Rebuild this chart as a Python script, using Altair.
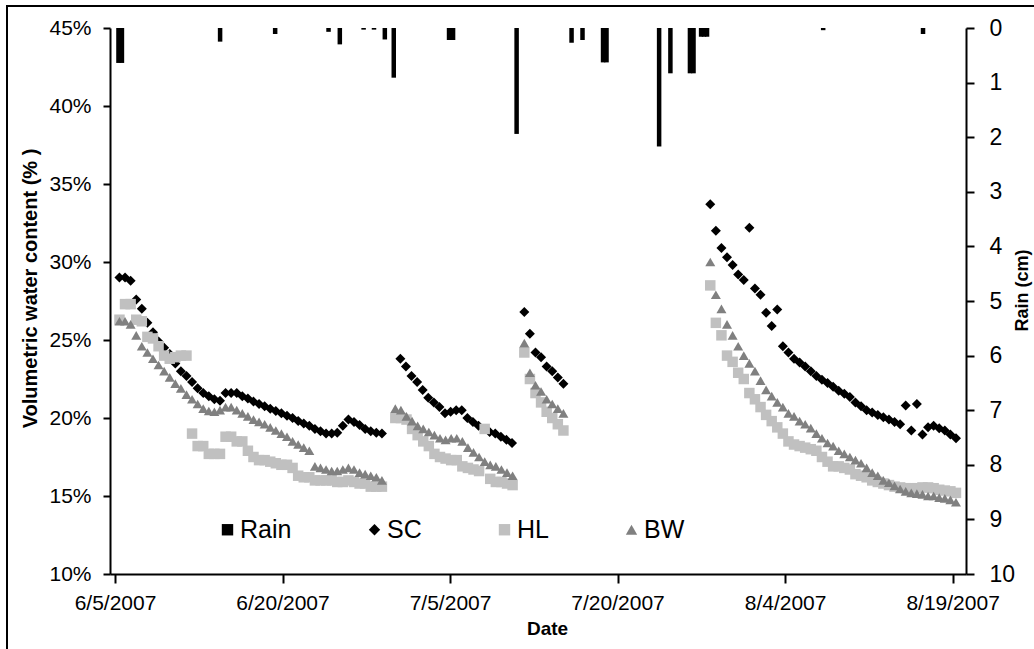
import altair as alt
import pandas as pd

BASE_DATE = pd.Timestamp("2007-06-05")
STEP_DAYS = 0.5

SERIES = ["Rain", "SC", "HL", "BW"]
COLORS = ["#000000", "#000000", "#c0c0c0", "#808080"]
SHAPES = ["square", "diamond", "square", "triangle-up"]
MARKER_SIZE = {"SC": 100, "HL": 110, "BW": 100}

# Rain (cm): day offset from 6/5/2007 and depth
RAIN_DAY = [0.31, 0.62, 9.41, 14.34, 19.12, 20.13, 22.26, 23.19, 24.16, 24.96,
            29.91, 30.27, 35.96, 40.88, 41.86, 43.70, 44.01, 48.72, 49.73, 51.48,
            51.80, 52.48, 52.74, 53.01, 63.41, 72.35]
RAIN_CM = [0.64, 0.64, 0.25, 0.11, 0.07, 0.30, 0.03, 0.03, 0.21, 0.91,
           0.22, 0.22, 1.94, 0.27, 0.22, 0.63, 0.63, 2.17, 0.83, 0.83,
           0.83, 0.16, 0.16, 0.16, 0.04, 0.11]

# Volumetric water content (%), sampled every half day within each segment
SC_STARTS = [0.4, 25.55, 36.65, 53.3]
SC_SEG1 = [29.0, 29.0, 28.8, 27.6, 27.0, 26.1, 25.5, 24.9, 24.5, 24.1,
           23.5, 23.0, 22.7, 22.3, 21.9, 21.6, 21.4, 21.2, 21.1, 21.6,
           21.6, 21.6, 21.4, 21.25, 21.05, 20.9, 20.75, 20.6, 20.45, 20.3,
           20.15, 20.0, 19.8, 19.65, 19.5, 19.3, 19.15, 19.0, 19.0, 19.05,
           19.5, 19.9, 19.75, 19.55, 19.3, 19.15, 19.05, 19.0]
SC_SEG2 = [23.8, 23.3, 22.7, 22.3, 21.8, 21.3, 21.0, 20.7, 20.3, 20.4,
           20.5, 20.5, 20.0, 19.75, 19.5, 19.3, 19.1, 19.0, 18.8, 18.6, 18.4]
SC_SEG3 = [26.8, 25.4, 24.2, 23.9, 23.3, 23.0, 22.6, 22.2]
SC_SEG4 = [33.7, 32.0, 30.9, 30.3, 29.8, 29.2, 28.85, 32.2, 28.3, 27.9,
           26.75, 25.9, 26.95, 24.6, 24.2, 23.8, 23.55, 23.3, 23.0, 22.7,
           22.45, 22.25, 22.0, 21.75, 21.55, 21.35, 21.0, 20.75, 20.5, 20.35,
           20.2, 20.05, 19.9, 19.75, 19.6, 20.8, 19.2, 20.9, 18.95, 19.4,
           19.5, 19.35, 19.2, 18.95, 18.7]

HL_STARTS = [0.4, 25.1, 36.65, 53.3]
HL_SEG1 = [26.3, 27.3, 27.3, 26.3, 26.2, 25.2, 25.1, 24.6, 24.0, 23.8,
           23.9, 24.0, 24.0, 19.0, 18.2, 18.2, 17.7, 17.7, 17.7, 18.8,
           18.8, 18.5, 18.5, 17.9, 17.5, 17.3, 17.3, 17.2, 17.1, 17.0,
           17.0, 16.8, 16.3, 16.2, 16.2, 16.0, 16.0, 16.0, 16.0, 15.9,
           15.9, 16.0, 15.9, 15.8, 15.8, 15.6, 15.6, 15.6]
HL_SEG2 = [20.0, 20.0, 19.9, 19.3, 18.9, 18.5, 18.2, 17.7, 17.5, 17.4,
           17.3, 17.3, 16.9, 16.8, 16.7, 16.6, 19.3, 16.1, 15.9, 15.9, 15.8, 15.7]
HL_SEG3 = [24.2, 22.5, 21.6, 21.0, 20.4, 20.0, 19.6, 19.2]
HL_SEG4 = [28.5, 26.1, 25.3, 24.0, 23.6, 22.9, 22.5, 21.6, 21.2, 20.7,
           20.2, 19.8, 19.4, 19.0, 18.5, 18.3, 18.2, 18.1, 18.0, 17.9,
           17.5, 17.2, 16.9, 16.9, 16.8, 16.7, 16.4, 16.3, 16.2, 16.0,
           15.9, 15.8, 15.7, 15.6, 15.55, 15.5, 15.5, 15.5, 15.55, 15.55,
           15.5, 15.4, 15.35, 15.3, 15.2]

BW_STARTS = [0.4, 25.1, 36.65, 53.3]
BW_SEG1 = [26.2, 26.2, 26.0, 25.3, 24.6, 24.2, 23.8, 23.4, 23.0, 22.6,
           22.2, 21.9, 21.5, 21.2, 20.9, 20.6, 20.45, 20.4, 20.5, 20.7,
           20.7, 20.5, 20.3, 20.1, 19.9, 19.75, 19.6, 19.4, 19.2, 19.0,
           18.8, 18.5, 18.3, 18.1, 17.9, 16.9, 16.8, 16.7, 16.6, 16.6,
           16.7, 16.8, 16.7, 16.5, 16.4, 16.3, 16.2, 16.0]
BW_SEG2 = [20.6, 20.5, 20.1, 19.8, 19.5, 19.3, 19.1, 18.9, 18.7, 18.6,
           18.7, 18.7, 18.5, 18.1, 17.8, 17.5, 17.2, 17.0, 16.9, 16.7, 16.5, 16.3]
BW_SEG3 = [24.8, 22.9, 22.1, 21.7, 21.2, 20.9, 20.6, 20.3]
BW_SEG4 = [30.0, 27.9, 27.0, 26.0, 25.3, 24.6, 24.0, 23.5, 23.0, 22.4,
           21.8, 21.4, 21.0, 20.7, 20.3, 20.1, 19.8, 19.6, 19.35, 19.0,
           18.7, 18.4, 18.2, 17.9, 17.7, 17.5, 17.3, 17.1, 16.8, 16.5,
           16.3, 16.0, 15.85, 15.65, 15.45, 15.3, 15.2, 15.15, 15.1, 15.0,
           15.0, 14.9, 14.85, 14.75, 14.6]

TICK_DATES = [(6, 5), (6, 20), (7, 5), (7, 20), (8, 4), (8, 19)]

FONT = "Liberation Sans"


def to_time(day):
    return BASE_DATE + pd.to_timedelta(day, unit="D")


rows = []
for name, starts, segs in [
    ("SC", SC_STARTS, [SC_SEG1, SC_SEG2, SC_SEG3, SC_SEG4]),
    ("HL", HL_STARTS, [HL_SEG1, HL_SEG2, HL_SEG3, HL_SEG4]),
    ("BW", BW_STARTS, [BW_SEG1, BW_SEG2, BW_SEG3, BW_SEG4]),
]:
    for s, vals in zip(starts, segs):
        for i, v in enumerate(vals):
            rows.append({"t": to_time(s + i * STEP_DAYS), "v": v,
                         "series": name, "sz": MARKER_SIZE[name]})
pts = pd.DataFrame(rows)

rain = pd.DataFrame({"t": [to_time(d) for d in RAIN_DAY], "rain": RAIN_CM})
frame = pd.DataFrame({"k": [0]})

x_scale = alt.Scale(domain=[alt.DateTime(year=2007, month=6, date=5),
                            alt.DateTime(year=2007, month=8, date=19, hours=18)])
x_axis = alt.Axis(
    values=[alt.DateTime(year=2007, month=m, date=d) for m, d in TICK_DATES],
    format="%-m/%-d/%Y", labelFontSize=21, labelPadding=9, labelFlush=False,
    labelColor="black", labelFont=FONT,
    tickSize=9, tickWidth=2, tickColor="black",
    domainColor="black", domainWidth=2, grid=False,
    title="Date", titleFontSize=19, titleFontWeight="bold", titleFont=FONT,
    titleColor="black", titleX=437, titleY=54, titleBaseline="middle",
    titleAlign="center",
)
x_enc = alt.X("t:T", scale=x_scale, axis=x_axis)

legend = alt.Legend(
    title=None, orient="none", legendX=105, legendY=489, direction="horizontal",
    labelFontSize=25, labelFont=FONT, labelColor="black", labelOffset=0,
    columnPadding=70, symbolStrokeWidth=0, symbolSize=130,
)

points = alt.Chart(pts).mark_point(filled=True, opacity=1, strokeWidth=0).encode(
    x=x_enc,
    y=alt.Y("v:Q", scale=alt.Scale(domain=[10, 45], nice=False, zero=False),
            axis=alt.Axis(
                values=[10, 15, 20, 25, 30, 35, 40, 45],
                labelExpr="datum.value + '%'", labelFontSize=21, labelPadding=12,
                labelColor="black", labelFont=FONT,
                tickSize=7, tickWidth=2, tickColor="black",
                domainColor="black", domainWidth=2, grid=False,
                title="Volumetric water content (% )", titleFontSize=20,
                titleFontWeight="bold", titleFont=FONT, titleColor="black",
                titleAngle=270, titleX=-80, titleY=260, titleBaseline="middle",
                titleAlign="center",
            )),
    color=alt.Color("series:N", scale=alt.Scale(domain=SERIES, range=COLORS), legend=legend),
    shape=alt.Shape("series:N", scale=alt.Scale(domain=SERIES, range=SHAPES), legend=legend),
    size=alt.Size("sz:Q", scale=None),
)

bars = alt.Chart(rain).mark_bar(size=4.5, color="black").encode(
    x=x_enc,
    y=alt.Y("rain:Q", scale=alt.Scale(domain=[0, 10], reverse=True, nice=False),
            axis=alt.Axis(
                orient="right", values=list(range(11)), labelFontSize=23,
                labelPadding=15, labelColor="black", labelFont=FONT,
                tickSize=8, tickWidth=2, tickColor="black",
                domainColor="black", domainWidth=2, grid=False,
                title="Rain (cm)", titleFontSize=18, titleFontWeight="bold",
                titleFont=FONT, titleColor="black", titleAngle=270, titleX=56,
                titleY=262, titleBaseline="middle", titleAlign="center",
            )),
)

frame_left = alt.Chart(frame).mark_rule(color="black", strokeWidth=2).encode(
    x=alt.value(-103), y=alt.value(-23), y2=alt.value(640)
)
frame_top = alt.Chart(frame).mark_rule(color="black", strokeWidth=2).encode(
    x=alt.value(-104), x2=alt.value(930), y=alt.value(-22)
)

chart = alt.layer(frame_left, frame_top, bars, points).resolve_scale(
    y="independent"
).properties(
    width=856, height=546,
    autosize=alt.AutoSizeParams(type="none"),
    padding={"left": 110, "top": 28, "right": 68, "bottom": 75},
    background="white",
).configure_view(strokeWidth=0)

chart.save("out.html", embed_options={"renderer": "svg", "actions": False})
